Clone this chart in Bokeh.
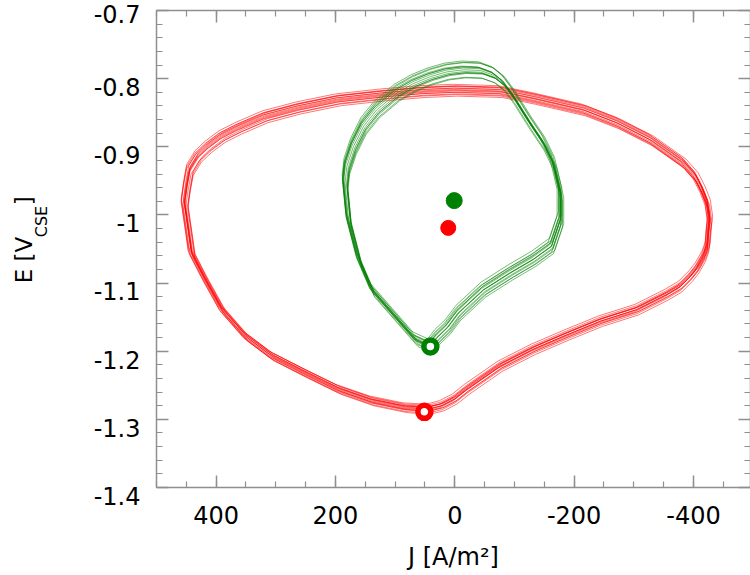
import math
from bokeh.plotting import figure
from bokeh.layouts import row
from bokeh.models import Range1d, FixedTicker, LinearAxis, Label
from bokeh.embed import file_html
from bokeh.resources import INLINE

# ---------------- data ----------------
# red loop: J [A/m2], E [V_CSE]
red_J = [453, 449, 441, 418, 390, 351, 307, 251, 195, 139, 83, 44, 22, 0, -20, -76,
         -132, -188, -244, -305, -355, -378, -395, -406, -417, -423, -425, -427,
         -423, -414, -403, -383, -328, -272, -216, -132, -76, 0, 55, 122, 195,
         262, 318, 363, 390, 413, 430, 444, 449, 453]
red_E = [-0.983, -1.007, -1.056, -1.095, -1.139, -1.178, -1.207, -1.232, -1.256,
         -1.273, -1.283, -1.285, -1.280, -1.270, -1.256, -1.222, -1.197, -1.176,
         -1.156, -1.139, -1.117, -1.105, -1.090, -1.078, -1.061, -1.046, -1.022,
         -1.007, -0.983, -0.963, -0.944, -0.924, -0.890, -0.865, -0.846, -0.829,
         -0.819, -0.817, -0.819, -0.824, -0.831, -0.843, -0.856, -0.873, -0.885,
         -0.900, -0.914, -0.934, -0.958, -0.983]

# green loop
green_J = [184, 181, 170, 153, 131, 97, 69, 41, 13, -15, -43, -65, -82, -98,
           -126, -149, -165, -177, -177, -162, -132, -93, -48, -6, 12, 30, 41,
           66, 100, 139, 161, 178, 184]
green_E = [-0.953, -0.929, -0.900, -0.870, -0.846, -0.821, -0.807, -0.797, -0.790,
           -0.787, -0.788, -0.795, -0.807, -0.826, -0.865, -0.895, -0.924, -0.968,
           -1.007, -1.046, -1.065, -1.085, -1.110, -1.144, -1.165, -1.180, -1.193,
           -1.183, -1.149, -1.110, -1.065, -1.007, -0.953]

# cycle-to-cycle spread of the repeated loops (shift in J, shift in E, size factor)
red_cycle_dJ = [0, 2, -2, 3, -3, 1, -1, 4, -4, 2, -2, 0, 3, -3]
red_cycle_dE = [0.000, 0.002, -0.002, 0.004, -0.004, 0.006, -0.006, 0.008, -0.008,
                0.001, -0.001, 0.003, -0.003, 0.005]
red_cycle_k = [1.000, 0.996, 1.004, 1.006, 0.994, 1.002, 0.998, 1.003, 0.997,
               1.008, 0.992, 1.001, 0.999, 1.005]
green_cycle_dJ = [0, 3, -3, 5, -5, 2, -2, 4, -4, 1, -1, 3, -3, 0]
green_cycle_dE = [0.000, 0.003, -0.003, 0.006, -0.006, 0.009, -0.009, 0.012, -0.011,
                  0.001, -0.001, 0.004, -0.004, 0.008]
green_cycle_k = [1.000, 1.006, 0.994, 0.997, 1.003, 1.010, 0.990, 1.004, 0.996,
                 1.008, 0.992, 1.002, 0.998, 1.012]

# markers
green_mean_J, green_mean_E = [1], [-0.979]
red_mean_J, red_mean_E = [11], [-1.019]
green_min_J, green_min_E = [41], [-1.193]
red_min_J, red_min_E = [51], [-1.289]

# axes
x_ticks = [400, 200, 0, -200, -400]
x_tick_labels = ["400", "200", "0", "-200", "-400"]
x_minor = list(range(-500, 501, 50))
y_ticks = [-0.7, -0.8, -0.9, -1.0, -1.1, -1.2, -1.3, -1.4]
y_tick_labels = ["-0.7", "-0.8", "-0.9", "-1", "-1.1", "-1.2", "-1.3", "-1.4"]
y_minor = [round(-1.4 + 0.02 * i, 2) for i in range(36)]

RED = "#ff0000"
GREEN = "#008000"
AXC = "#8f8f8f"
FONT = "DejaVu Sans"

W, H = 750, 575
TW = 60                        # width of the strip holding the y title
FL, FT, FB = 156, 10.4, 487.0  # frame left / top / bottom in page pixels
X0, X1 = 500, -495.6
Y0, Y1 = -1.4, -0.7

p = figure(width=W - TW, height=H, x_range=Range1d(X0, X1), y_range=Range1d(Y0, Y1),
           output_backend="svg", toolbar_location=None,
           min_border_left=FL - TW, min_border_right=0, min_border_top=10,
           min_border_bottom=88)
p.xgrid.visible = False
p.ygrid.visible = False
p.outline_line_color = None


def style_axis(ax):
    ax.axis_line_color = AXC
    ax.axis_line_width = 1.5
    ax.major_tick_line_color = AXC
    ax.major_tick_line_width = 1.5
    ax.minor_tick_line_color = AXC
    ax.minor_tick_line_width = 1.2
    ax.major_tick_in = 12
    ax.major_tick_out = 0
    ax.minor_tick_in = 6
    ax.minor_tick_out = 0
    ax.major_label_text_font = FONT
    ax.major_label_text_color = "black"
    ax.major_label_text_font_size = "24px"


xa = p.xaxis[0]
xa.ticker = FixedTicker(ticks=x_ticks, minor_ticks=x_minor)
style_axis(xa)
xa.major_label_overrides = {t: l for t, l in zip(x_ticks, x_tick_labels)}
xa.major_label_standoff = 18
xa.axis_label = "J [A/m²]"
xa.axis_label_text_font = FONT
xa.axis_label_text_font_size = "24px"
xa.axis_label_text_font_style = "normal"
xa.axis_label_text_color = "black"
xa.axis_label_standoff = 16

# left axis: labels sit a little below their ticks (empty first line, tight line height);
# the top one is kept on a single line since it already lands below the frame edge
ya = p.yaxis[0]
ya.ticker = FixedTicker(ticks=y_ticks, minor_ticks=y_minor)
style_axis(ya)
ya.major_label_overrides = {t: ("\n" + l if i > 0 else l)
                            for i, (t, l) in enumerate(zip(y_ticks, y_tick_labels))}
ya.major_label_text_line_height = 0.67
ya.major_label_standoff = 16

top = LinearAxis(ticker=FixedTicker(ticks=x_ticks, minor_ticks=x_minor))
style_axis(top)
top.major_label_overrides = {t: "" for t in x_ticks}
top.major_label_standoff = 0
p.add_layout(top, "above")

right = LinearAxis(ticker=FixedTicker(ticks=y_ticks, minor_ticks=y_minor))
style_axis(right)
right.major_label_overrides = {t: "" for t in y_ticks}
right.major_label_standoff = 0
p.add_layout(right, "right")

# repeated cycles
red_cJ, red_cE = 12, -1.05
green_cJ, green_cE = 0, -0.99
for dj, de, k in zip(red_cycle_dJ, red_cycle_dE, red_cycle_k):
    p.line([red_cJ + (j - red_cJ) * k + dj for j in red_J],
           [red_cE + (e - red_cE) * k + de for e in red_E],
           line_color=RED, line_width=0.9, line_alpha=0.6)
for dj, de, k in zip(green_cycle_dJ, green_cycle_dE, green_cycle_k):
    p.line([green_cJ + (j - green_cJ) * k + dj for j in green_J],
           [green_cE + (e - green_cE) * k + de for e in green_E],
           line_color=GREEN, line_width=0.9, line_alpha=0.6)

# markers
p.scatter(green_mean_J, green_mean_E, size=16, fill_color=GREEN, line_color=GREEN)
p.scatter(red_mean_J, red_mean_E, size=15, fill_color=RED, line_color=RED)
p.scatter(green_min_J, green_min_E, size=13, fill_color="white", line_color=GREEN, line_width=5.5)
p.scatter(red_min_J, red_min_E, size=13, fill_color="white", line_color=RED, line_width=5.5)

# ---------------- left strip: y title "E [V_CSE]" ----------------
tf = figure(width=TW, height=H, x_range=Range1d(0, TW), y_range=p.y_range,
            output_backend="svg", toolbar_location=None,
            x_axis_type=None, y_axis_type=None,
            min_border_left=0, min_border_right=0, min_border_top=10, min_border_bottom=88)
tf.xgrid.visible = False
tf.ygrid.visible = False
tf.outline_line_color = None


def ey(py):
    return Y1 - (py - FT) / (FB - FT) * (Y1 - Y0)


tf.add_layout(Label(x=23, y=ey(283), text="E [V", angle=math.pi / 2,
                    text_align="left", text_baseline="alphabetic",
                    text_font=FONT, text_font_size="23px", text_color="black"))
tf.add_layout(Label(x=41, y=ey(237), text="CSE", angle=math.pi / 2,
                    text_align="left", text_baseline="alphabetic",
                    text_font=FONT, text_font_size="16px", text_color="black"))
tf.add_layout(Label(x=23, y=ey(205), text="]", angle=math.pi / 2,
                    text_align="left", text_baseline="alphabetic",
                    text_font=FONT, text_font_size="23px", text_color="black"))

layout = row(tf, p, spacing=0)
open("out.html", "w").write(file_html(layout, INLINE))
